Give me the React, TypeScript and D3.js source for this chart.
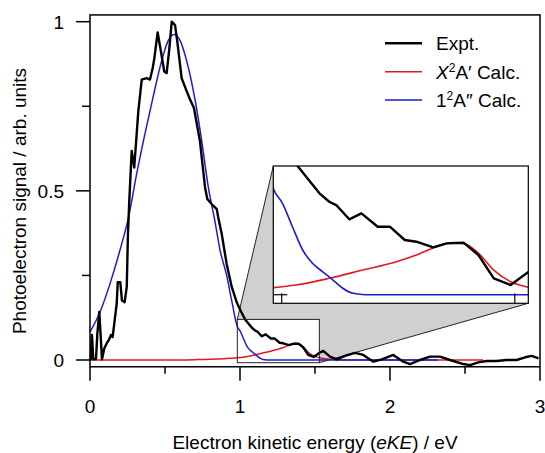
import * as d3 from "d3";
import { useEffect } from "react";

const WIDTH = 545;
const HEIGHT = 453;
const FONT = "'Liberation Sans', Arial, sans-serif";

// measured spectrum (black)
const exptEKE = [
  0, 0.005, 0.013, 0.022, 0.04, 0.049, 0.062, 0.08, 0.095, 0.111, 0.125, 0.14, 0.151, 0.162,
  0.178, 0.185, 0.202, 0.213, 0.231, 0.245, 0.253, 0.262, 0.278, 0.295, 0.322, 0.345, 0.378,
  0.4, 0.418, 0.429, 0.451, 0.473, 0.495, 0.511, 0.529, 0.545, 0.567, 0.582, 0.611, 0.645,
  0.667, 0.693, 0.733, 0.767, 0.782, 0.811, 0.845, 0.855, 0.878, 0.911, 0.945, 0.978, 1.005,
  1.034, 1.081, 1.102, 1.117, 1.145, 1.171, 1.206, 1.232, 1.264, 1.289, 1.325, 1.354, 1.39,
  1.422, 1.455, 1.491, 1.53, 1.555, 1.6, 1.645, 1.7, 1.767, 1.822, 1.889, 1.945, 2.022, 2.089,
  2.133, 2.2, 2.267, 2.333, 2.4, 2.489, 2.533, 2.589, 2.645, 2.711, 2.778, 2.845, 2.9, 2.945, 2.99,
];
const exptSignal = [
  0, 0.002, 0.074, 0.002, 0.003, 0.079, 0.142, 0.002, 0.034, 0.049, 0.059, 0.074, 0.068, 0.108,
  0.167, 0.23, 0.23, 0.176, 0.171, 0.216, 0.373, 0.471, 0.618, 0.569, 0.735, 0.829, 0.833,
  0.829, 0.863, 0.892, 0.968, 0.912, 0.853, 0.848, 0.921, 1.0, 0.99, 0.941, 0.833, 0.794,
  0.77, 0.745, 0.647, 0.51, 0.476, 0.461, 0.446, 0.421, 0.373, 0.284, 0.216, 0.171, 0.145,
  0.12, 0.0945, 0.0867, 0.0836, 0.0703, 0.0759, 0.0634, 0.0634, 0.051, 0.0494, 0.0442, 0.0479, 0.0485,
  0.037, 0.0153, 0.009, 0.0214, 0.027, 0.01, 0.002, 0.012, 0.021, 0.015, -0.005, 0.002, 0.015, -0.005,
  -0.012, 0, 0.01, 0.01, 0, -0.012, -0.015, -0.007, -0.003, -0.003, 0, 0, 0.008, 0.012, 0.005,
];

// X 2A' calculation (red)
const calcXEKE = [
  0, 0.5, 0.7, 0.8, 0.9, 0.98, 1.03, 1.102, 1.174, 1.246, 1.289, 1.332, 1.368, 1.39, 1.419,
  1.455, 1.491, 1.53, 1.58, 1.65, 1.75, 2.62,
];
const calcXSignal = [
  0, 0, 0.001, 0.002, 0.004, 0.0065, 0.009, 0.0153, 0.023, 0.0308, 0.037, 0.0447, 0.0487, 0.0479,
  0.04, 0.023, 0.0121, 0.0069, 0.003, 0.001, 0, 0,
];

// 1 2A'' calculation (blue)
const calcAEKE = [
  0, 0.067, 0.133, 0.2, 0.256, 0.311, 0.367, 0.422, 0.478, 0.522, 0.56, 0.6, 0.644, 0.7, 0.744,
  0.789, 0.833, 0.867, 0.911, 0.945, 0.982, 1.002, 1.023, 1.045, 1.066, 1.088, 1.11, 1.131, 1.153,
  1.18, 2.32,
];
const calcASignal = [
  0.083, 0.142, 0.225, 0.325, 0.42, 0.55, 0.67, 0.78, 0.885, 0.945, 0.962, 0.945, 0.885, 0.77, 0.65,
  0.51, 0.41, 0.325, 0.25, 0.175, 0.099, 0.085, 0.0634, 0.0417, 0.0293, 0.0214, 0.0137, 0.006, 0.0013,
  0, 0,
];

const xTicks = [0, 1, 2, 3];
const xMinorTicks = [0.5, 1.5, 2.5];
const yTicks = [0, 0.5, 1];
const yMinorTicks = [0.25, 0.75];
const zoomEKE = [0.982, 1.529];
const zoomSignal = [-0.008, 0.12];
const insetXTicks = [1, 1.5];
const insetYTicks = [0];

const legendItems = [
  { key: "expt", color: "#000", width: 2.4 },
  { key: "x", color: "#e31a1c", width: 1.5 },
  { key: "a", color: "#1c1cd2", width: 1.5 },
];

const zip = (xs: number[], ys: number[]) => xs.map((x, i) => [x, ys[i]] as [number, number]);

export default function App() {
  useEffect(() => {
    document.body.style.margin = "0";
  }, []);

  const x = d3.scaleLinear().domain([0, 3]).range([90, 540]);
  const y = d3.scaleLinear().domain([0, 1]).range([360, 21.7]);
  const frameTop = y(1.02);
  const frameBottom = y(-0.02);

  const insetBox = { x0: 273.3, x1: 528.3, y0: 166, y1: 303.3 };
  const ix = d3.scaleLinear().domain(zoomEKE).range([insetBox.x0, insetBox.x1]);
  const iy = d3.scaleLinear().domain(zoomSignal).range([insetBox.y1, insetBox.y0]);

  const expt = zip(exptEKE, exptSignal);
  const calcX = zip(calcXEKE, calcXSignal);
  const calcA = zip(calcAEKE, calcASignal);

  const mainLine = d3.line<[number, number]>().x((d) => x(d[0])).y((d) => y(d[1]));
  const mainSmooth = d3.line<[number, number]>().x((d) => x(d[0])).y((d) => y(d[1])).curve(d3.curveMonotoneX);
  const insetLine = d3.line<[number, number]>().x((d) => ix(d[0])).y((d) => iy(d[1]));
  const insetSmooth = d3.line<[number, number]>().x((d) => ix(d[0])).y((d) => iy(d[1])).curve(d3.curveMonotoneX);

  // small zoom box in main coords
  const sx0 = x(zoomEKE[0]);
  const sx1 = x(zoomEKE[1]);
  const sy0 = y(zoomSignal[1]);
  const sy1 = y(zoomSignal[0]);
  const shade = [
    [sx0, sy0],
    [insetBox.x0, insetBox.y0],
    [insetBox.x1, insetBox.y1],
    [sx1, sy1],
    [sx1, sy0],
  ]
    .map((p) => p.join(","))
    .join(" ");

  return (
    <svg width={WIDTH} height={HEIGHT} style={{ position: "absolute", left: 0, top: 0 }} fontFamily={FONT}>
      <rect width={WIDTH} height={HEIGHT} fill="#fff" />
      <defs>
        <clipPath id="inset-clip">
          <rect x={insetBox.x0} y={insetBox.y0} width={insetBox.x1 - insetBox.x0} height={insetBox.y1 - insetBox.y0} />
        </clipPath>
      </defs>

      {/* zoom shading */}
      <polygon points={shade} fill="#d0d0d0" />
      <line x1={sx0} y1={sy0} x2={insetBox.x0} y2={insetBox.y0} stroke="#222" strokeWidth={1} />
      <line x1={sx1} y1={sy1} x2={insetBox.x1} y2={insetBox.y1} stroke="#222" strokeWidth={1} />

      {/* main curves */}
      <path d={mainSmooth(calcX) ?? ""} fill="none" stroke={legendItems[1].color} strokeWidth={1.5} />
      <path d={mainSmooth(calcA) ?? ""} fill="none" stroke={legendItems[2].color} strokeWidth={1.5} />
      <path d={mainLine(expt) ?? ""} fill="none" stroke="#000" strokeWidth={2.4} strokeLinejoin="round" />

      <rect x={sx0} y={sy0} width={sx1 - sx0} height={sy1 - sy0} fill="none" stroke="#222" strokeWidth={1} />

      {/* frame */}
      <rect x={x(0)} y={frameTop} width={x(3) - x(0)} height={frameBottom - frameTop} fill="none" stroke="#000" strokeWidth={1.5} />

      {/* x axis */}
      {xTicks.map((t) => (
        <g key={"xt" + t}>
          <line x1={x(t)} x2={x(t)} y1={frameBottom} y2={frameBottom + 14} stroke="#000" strokeWidth={1.5} />
          <text x={x(t)} y={413} fontSize={19} textAnchor="middle">{t}</text>
        </g>
      ))}
      {xMinorTicks.map((t) => (
        <line key={"xm" + t} x1={x(t)} x2={x(t)} y1={frameBottom} y2={frameBottom + 7} stroke="#000" strokeWidth={1.5} />
      ))}
      <text x={315} y={449} fontSize={19} textAnchor="middle">
        Electron kinetic energy (<tspan fontStyle="italic">eKE</tspan>) / eV
      </text>

      {/* y axis */}
      {yTicks.map((t) => (
        <g key={"yt" + t}>
          <line x1={x(0) - 14} x2={x(0)} y1={y(t)} y2={y(t)} stroke="#000" strokeWidth={1.5} />
          <text x={64} y={y(t) + 7} fontSize={19} textAnchor="end">{t}</text>
        </g>
      ))}
      {yMinorTicks.map((t) => (
        <line key={"ym" + t} x1={x(0) - 8} x2={x(0)} y1={y(t)} y2={y(t)} stroke="#000" strokeWidth={1.5} />
      ))}
      <text transform="translate(26,201) rotate(-90)" fontSize={19} textAnchor="middle">
        Photoelectron signal / arb. units
      </text>

      {/* inset */}
      <rect x={insetBox.x0} y={insetBox.y0} width={insetBox.x1 - insetBox.x0} height={insetBox.y1 - insetBox.y0} fill="#fff" />
      <g clipPath="url(#inset-clip)">
        <path d={insetSmooth(calcX) ?? ""} fill="none" stroke={legendItems[1].color} strokeWidth={1.6} />
        <path d={insetSmooth(calcA) ?? ""} fill="none" stroke={legendItems[2].color} strokeWidth={1.6} />
        <path d={insetLine(expt) ?? ""} fill="none" stroke="#000" strokeWidth={2.4} strokeLinejoin="round" />
      </g>
      {insetXTicks.map((t) => (
        <line key={"ix" + t} x1={ix(t)} x2={ix(t)} y1={insetBox.y1} y2={insetBox.y1 - 10} stroke="#000" strokeWidth={1.2} />
      ))}
      {insetYTicks.map((t) => (
        <line key={"iy" + t} x1={insetBox.x0} x2={insetBox.x0 + 14} y1={iy(t)} y2={iy(t)} stroke="#000" strokeWidth={1.2} />
      ))}
      <rect x={insetBox.x0} y={insetBox.y0} width={insetBox.x1 - insetBox.x0} height={insetBox.y1 - insetBox.y0} fill="none" stroke="#000" strokeWidth={1.2} />

      {/* legend */}
      {legendItems.map((item, i) => {
        const ly = 43.3 + i * 28.4;
        return (
          <g key={item.key}>
            <line x1={385} x2={422} y1={ly} y2={ly} stroke={item.color} strokeWidth={item.width} />
            <text x={436} y={ly + 7} fontSize={19}>
              {item.key === "expt" && "Expt."}
              {item.key === "x" && (
                <>
                  <tspan fontStyle="italic">X</tspan>
                  <tspan fontSize={12} dy={-7}>2</tspan>
                  <tspan dy={7}>A′ Calc.</tspan>
                </>
              )}
              {item.key === "a" && (
                <>
                  <tspan>1</tspan>
                  <tspan fontSize={12} dy={-7}>2</tspan>
                  <tspan dy={7}>A″ Calc.</tspan>
                </>
              )}
            </text>
          </g>
        );
      })}
    </svg>
  );
}
